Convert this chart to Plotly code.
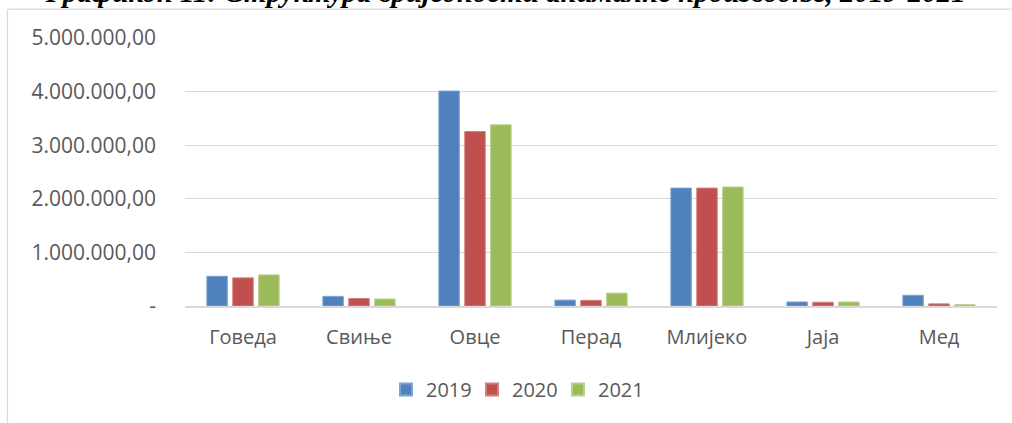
import plotly.graph_objects as go

categories = ["Говеда", "Свиње", "Овце", "Перад", "Млијеко", "Јаја", "Мед"]
years = ["2019", "2020", "2021"]
values_2019 = [555000, 180000, 4010000, 110000, 2200000, 75000, 200000]
values_2020 = [525000, 140000, 3255000, 105000, 2200000, 70000, 40000]
values_2021 = [580000, 130000, 3380000, 240000, 2220000, 75000, 25000]
series = [values_2019, values_2020, values_2021]
colors = ["#4F81BD", "#C0504D", "#9BBB59"]
edge_colors = ["#7EA3D3", "#D27F7D", "#B7D08A"]
y_tickvals = [0, 1000000, 2000000, 3000000, 4000000, 5000000]
y_ticktext = ["-", "1.000.000,00", "2.000.000,00", "3.000.000,00", "4.000.000,00", "5.000.000,00"]
title_text = "Графикон 11: Структура вриједности анималне производње, 2019-2021"

W, H = 1012, 423
PL, PR = 185, 997
PT, PB = 38.3, 306.5

def py(p):
    return (PB - p) / (PB - PT)

def px(p):
    return (p - PL) / (PR - PL)

fig = go.Figure()
for name, vals, c, ec in zip(years, series, colors, edge_colors):
    fig.add_trace(go.Bar(
        x=categories, y=vals, name=name,
        marker=dict(color=c, line=dict(color=ec, width=1)),
    ))

font_family = "Open Sans"
txt_color = "#595959"

fig.update_layout(
    width=W, height=H,
    margin=dict(l=PL, r=W - PR, t=PT, b=H - PB, pad=0),
    paper_bgcolor="white", plot_bgcolor="white",
    barmode="group", bargap=0.33, bargroupgap=0.21,
    font=dict(family=font_family, size=20, color=txt_color),
    showlegend=True,
    legend=dict(
        orientation="h", x=px(515), xanchor="center", y=py(390), yanchor="middle",
        font=dict(family=font_family, size=20, color=txt_color),
        itemwidth=30, traceorder="normal", itemsizing="constant",
        entrywidth=41, entrywidthmode="pixels",
        bgcolor="rgba(0,0,0,0)",
    ),
    xaxis=dict(
        showgrid=False, showline=True, linecolor="#D9D9D9", linewidth=2,
        ticks="", tickfont=dict(family=font_family, size=20, color=txt_color),
        ticklabelstandoff=12, fixedrange=True,
    ),
    yaxis=dict(
        range=[0, 5000000], tickvals=y_tickvals, ticktext=y_ticktext,
        showgrid=True, gridcolor="#D9D9D9", gridwidth=1, zeroline=False,
        showline=False, ticks="",
        tickfont=dict(family=font_family, size=21, color=txt_color),
        ticklabelstandoff=28, fixedrange=True,
    ),
    annotations=[dict(
        text="<b><i>" + title_text + "</i></b>",
        xref="paper", yref="paper", x=px(505), y=py(10), xanchor="center", yanchor="bottom",
        showarrow=False,
        font=dict(family="Liberation Serif", size=29, color="black"),
    )],
    shapes=[
        dict(type="line", xref="paper", yref="paper", x0=px(7.5), x1=px(1015), y0=py(9.5), y1=py(9.5),
             line=dict(color="#D9D9D9", width=1.2)),
        dict(type="line", xref="paper", yref="paper", x0=px(7.5), x1=px(7.5), y0=py(9.5), y1=py(430),
             line=dict(color="#D9D9D9", width=1.2)),
    ],
)

fig.write_html(
    "out.html",
    config={"displayModeBar": False},
    post_script="document.body.style.margin='0';document.body.style.overflow='hidden';",
)
